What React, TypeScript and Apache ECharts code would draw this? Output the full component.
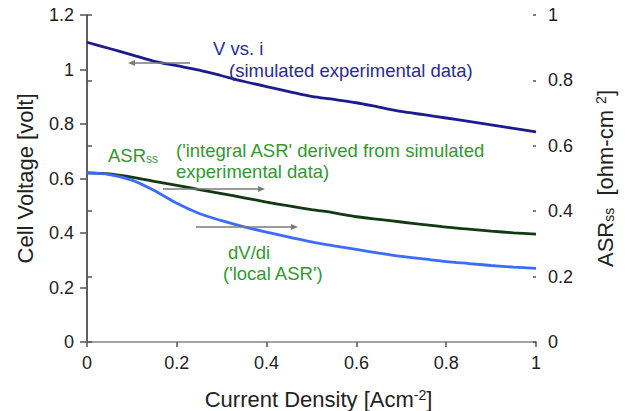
import React, { useEffect, useRef } from "react";
import * as echarts from "echarts";

const currentDensity = [0, 0.05, 0.1, 0.15, 0.2, 0.25, 0.3, 0.35, 0.4, 0.45, 0.5, 0.55, 0.6, 0.65, 0.7, 0.75, 0.8, 0.85, 0.9, 0.95, 1.0];
const cellVoltage = [1.100, 1.077, 1.054, 1.030, 1.014, 0.998, 0.977, 0.956, 0.937, 0.919, 0.901, 0.890, 0.878, 0.862, 0.846, 0.834, 0.822, 0.810, 0.797, 0.784, 0.771];
const asrIntegral = [0.517, 0.514, 0.504, 0.491, 0.479, 0.466, 0.454, 0.441, 0.428, 0.416, 0.405, 0.395, 0.383, 0.375, 0.367, 0.359, 0.351, 0.345, 0.339, 0.334, 0.330];
const asrLocal = [0.517, 0.512, 0.495, 0.463, 0.424, 0.393, 0.371, 0.352, 0.336, 0.321, 0.306, 0.294, 0.283, 0.272, 0.262, 0.254, 0.246, 0.240, 0.234, 0.229, 0.225];

const FONT = "'Liberation Sans', Arial, Helvetica, sans-serif";
const GREEN_TEXT = "#2f9a2f";
const NAVY_TEXT = "#2a2a9c";
const ARROW = "#7a7a7a";
const ANN = 18.5;
const TITLE = 22;

function arrow(x1: number, x2: number, y: number) {
  const dir = x2 > x1 ? 1 : -1;
  const headLen = 7;
  const half = 3;
  return [
    {
      type: "line",
      shape: { x1, y1: y, x2: x2 - dir * headLen + dir * 1, y2: y },
      style: { stroke: ARROW, lineWidth: 1.5 },
      z: 10,
    },
    {
      type: "polygon",
      shape: { points: [[x2, y], [x2 - dir * headLen, y - half], [x2 - dir * headLen, y + half]] },
      style: { fill: ARROW },
      z: 10,
    },
  ];
}

function txt(x: number, y: number, text: string, color: string, rich?: any) {
  return {
    type: "text",
    x,
    y,
    style: {
      text,
      fill: color,
      fontFamily: FONT,
      fontSize: ANN,
      verticalAlign: "middle",
      align: "left",
      rich,
    },
    z: 10,
  };
}

export default function App() {
  const ref = useRef<HTMLDivElement>(null);
  useEffect(() => {
    if (!ref.current) return;
    const chart = echarts.init(ref.current, undefined, { renderer: "svg" });
    const v = currentDensity.map((x, i) => [x, cellVoltage[i]]);
    const a1 = currentDensity.map((x, i) => [x, asrIntegral[i]]);
    const a2 = currentDensity.map((x, i) => [x, asrLocal[i]]);
    const axisLineStyle = { color: "#555", width: 1.5 };
    const labelStyle = { color: "#222", fontSize: 18, fontFamily: FONT };
    chart.setOption({
      animation: false,
      backgroundColor: "#fff",
      textStyle: { fontFamily: FONT },
      grid: { left: 87, right: 89, top: 15, bottom: 69, containLabel: false, outerBoundsMode: "none" },
      xAxis: [
        {
          type: "value",
          min: 0,
          max: 1,
          interval: 0.2,
          position: "bottom",
          axisLine: { show: true, lineStyle: axisLineStyle },
          axisTick: { show: true, length: 5, lineStyle: axisLineStyle },
          axisLabel: { ...labelStyle, margin: 12 },
          splitLine: { show: false },
          name: "Current Density [Acm{sup|-2}]",
          nameLocation: "middle",
          nameGap: 46,
          nameTextStyle: {
            color: "#222",
            fontSize: TITLE,
            fontFamily: FONT,
            padding: [0, 0, 0, 14],
            rich: { sup: { fontSize: 14, verticalAlign: "top", color: "#222", fontFamily: FONT, padding: [0, 0, 8, 0] } },
          },
        },
        {
          type: "value",
          min: 0,
          max: 1,
          position: "top",
          axisLine: { show: true, lineStyle: { color: "#b0b0b0", width: 1.5 } },
          axisTick: { show: false },
          axisLabel: { show: false },
          splitLine: { show: false },
        },
      ],
      yAxis: [
        {
          type: "value",
          min: 0,
          max: 1.2,
          interval: 0.2,
          position: "left",
          axisLine: { show: true, lineStyle: axisLineStyle },
          axisTick: { show: true, length: 7, lineStyle: axisLineStyle },
          axisLabel: { ...labelStyle, margin: 13 },
          splitLine: { show: false },
          name: "Cell Voltage [volt]",
          nameLocation: "middle",
          nameGap: 51,
          nameTextStyle: { color: "#222", fontSize: TITLE, fontFamily: FONT },
        },
        {
          type: "value",
          min: 0,
          max: 1,
          interval: 0.2,
          position: "right",
          axisLine: { show: true, lineStyle: axisLineStyle },
          axisTick: { show: true, length: 5, lineStyle: axisLineStyle },
          axisLabel: { ...labelStyle, margin: 12 },
          splitLine: { show: false },
          name: "ASR{sub|ss}  [ohm-cm {sup|2}]",
          nameLocation: "middle",
          nameGap: 58,
          nameRotate: 90,
          nameTextStyle: {
            color: "#222",
            fontSize: TITLE,
            fontFamily: FONT,
            rich: {
              sub: { fontSize: 14, verticalAlign: "bottom", color: "#222", fontFamily: FONT, padding: [6, 0, 0, 0] },
              sup: { fontSize: 14, verticalAlign: "top", color: "#222", fontFamily: FONT, padding: [0, 0, 8, 0] },
            },
          },
        },
        {
          type: "value",
          min: 0,
          max: 1,
          interval: 0.2,
          position: "right",
          axisLine: { show: false },
          axisTick: { show: true, inside: true, length: 3, lineStyle: axisLineStyle },
          axisLabel: { show: false },
          splitLine: { show: false },
        },
      ],
      series: [
        {
          name: "V vs. i",
          type: "line",
          xAxisIndex: 0,
          yAxisIndex: 0,
          data: v,
          smooth: 0.3,
          showSymbol: false,
          lineStyle: { color: "#1c1c8e", width: 2.8 },
        },
        {
          name: "ASRss",
          type: "line",
          xAxisIndex: 0,
          yAxisIndex: 1,
          data: a1,
          smooth: 0.3,
          showSymbol: false,
          lineStyle: { color: "#123a12", width: 2.8 },
        },
        {
          name: "dV/di",
          type: "line",
          xAxisIndex: 0,
          yAxisIndex: 1,
          data: a2,
          smooth: 0.3,
          showSymbol: false,
          lineStyle: { color: "#3b6bff", width: 2.8 },
        },
      ],
      graphic: [
        txt(213, 48, "V vs. i", NAVY_TEXT),
        txt(229, 70, "(simulated experimental data)", NAVY_TEXT),
        ...arrow(190, 128, 63),
        txt(108, 155, "ASR{sub|ss}", GREEN_TEXT, {
          sub: { fontSize: 12, fill: GREEN_TEXT, fontFamily: FONT, verticalAlign: "bottom", padding: [7, 0, 0, 0] },
        }),
        txt(176, 150, "('integral ASR' derived from simulated", GREEN_TEXT),
        txt(176, 171, "experimental data)", GREEN_TEXT),
        ...arrow(163, 265, 189),
        ...arrow(196, 298, 227),
        txt(228, 252, "dV/di", GREEN_TEXT),
        txt(223, 273, "('local ASR')", GREEN_TEXT),
      ],
    });
    return () => chart.dispose();
  }, []);
  return <div ref={ref} style={{ position: "absolute", left: 0, top: 0, width: 625, height: 411 }} />;
}
